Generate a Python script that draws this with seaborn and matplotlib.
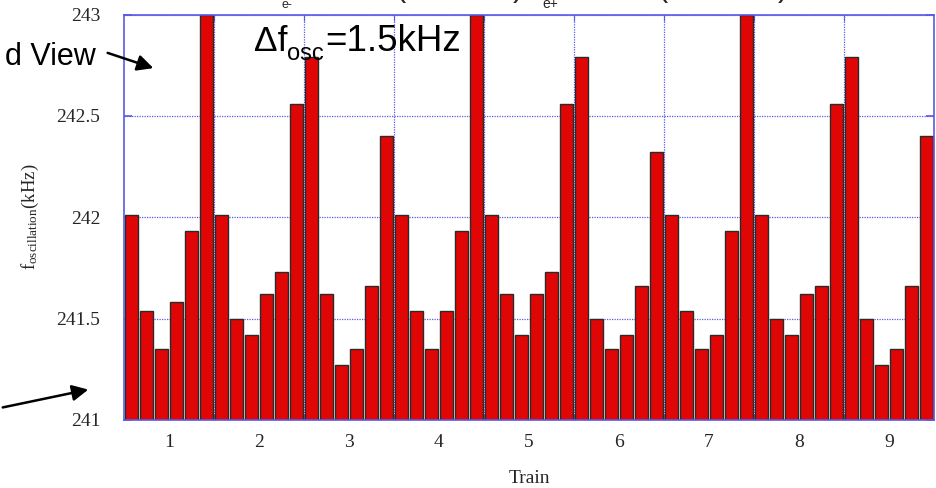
import numpy as np
import pandas as pd
import matplotlib
matplotlib.use("Agg")
import matplotlib.pyplot as plt
import seaborn as sns
from matplotlib.patches import FancyArrowPatch

# ---- data ----
trains = [1, 2, 3, 4, 5, 6, 7, 8, 9]
bunches_per_train = 6
freq_train1 = [242.01, 241.54, 241.35, 241.58, 241.93, 243.00]
freq_train2 = [242.01, 241.50, 241.42, 241.62, 241.73, 242.56]
freq_train3 = [242.79, 241.62, 241.27, 241.35, 241.66, 242.40]
freq_train4 = [242.01, 241.54, 241.35, 241.54, 241.93, 243.00]
freq_train5 = [242.01, 241.62, 241.42, 241.62, 241.73, 242.56]
freq_train6 = [242.79, 241.50, 241.35, 241.42, 241.66, 242.32]
freq_train7 = [242.01, 241.54, 241.35, 241.42, 241.93, 243.00]
freq_train8 = [242.01, 241.50, 241.42, 241.62, 241.66, 242.56]
freq_train9 = [242.79, 241.50, 241.27, 241.35, 241.66, 242.40]
y_ticks = [241, 241.5, 242, 242.5, 243]
y_tick_labels = ["241", "241.5", "242", "242.5", "243"]

freqs = (freq_train1 + freq_train2 + freq_train3 + freq_train4 + freq_train5
         + freq_train6 + freq_train7 + freq_train8 + freq_train9)
df = pd.DataFrame({"bar": np.arange(len(freqs)), "freq": freqs})

sns.set_style("white")
plt.rcParams["mathtext.fontset"] = "custom"
plt.rcParams["mathtext.rm"] = "Liberation Serif"
plt.rcParams["mathtext.it"] = "Liberation Serif:italic"
plt.rcParams["font.family"] = ["Liberation Serif", "DejaVu Serif"]

BLUE = "#5a5ae6"
RED = "#e00606"
SANS = "Liberation Sans"

fig = plt.figure(figsize=(9.36, 4.88), dpi=100)
ax = fig.add_axes([124 / 936, 1 - 420 / 488, 810 / 936, (420 - 14.5) / 488])

sns.barplot(data=df, x="bar", y="freq", color=RED, saturation=1,
            edgecolor="#2a2a2a", linewidth=1.0, width=0.83, ax=ax,
            order=list(df["bar"]))

n = len(freqs)
ax.set_xlim(-0.5, n - 0.5)
ax.set_ylim(241, 243)

# boundaries between trains -> major ticks/grid; labels at train centres
bounds = [i * bunches_per_train - 0.5 for i in range(1, len(trains))]
centres = [i * bunches_per_train + (bunches_per_train - 1) / 2 for i in range(len(trains))]
ax.set_xticks(bounds)
ax.set_xticklabels([""] * len(bounds))
ax.set_xticks(centres, minor=True)
ax.set_xticklabels([str(t) for t in trains], minor=True, fontsize=14)
ax.tick_params(axis="x", which="minor", length=0, pad=10)
ax.tick_params(axis="x", which="major", direction="in", length=4, color=BLUE,
               top=True, bottom=True)

ax.set_yticks(y_ticks)
ax.set_yticklabels(y_tick_labels, fontsize=14)
ax.tick_params(axis="y", direction="in", length=6, width=1.2, color=BLUE,
               left=True, right=True, pad=17)

ax.set_axisbelow(True)
ax.grid(True, which="major", axis="both", color=BLUE, linestyle=(0, (1, 1)),
        linewidth=0.9)

for s in ax.spines.values():
    s.set_color(BLUE)
    s.set_linewidth(1.2)

ax.set_xlabel("Train", fontsize=14, labelpad=14)
ax.set_ylabel(r"f$_{\mathrm{oscillation}}$(kHz)", fontsize=13.5, labelpad=11)

# annotation text: Δf_osc=1.5kHz
fig.text(254 / 936, 1 - 51 / 488, "Δf", fontsize=25.5, family=SANS,
         ha="left", va="baseline", color="black")
fig.text(287 / 936, 1 - 60 / 488, "osc", fontsize=17, family=SANS,
         ha="left", va="baseline", color="black")
fig.text(325 / 936, 1 - 51 / 488, "=1.5kHz", fontsize=26.5, family=SANS,
         ha="left", va="baseline", color="black")
fig.text(96 / 936, 1 - 65 / 488, "d View", fontsize=22, family=SANS,
         ha="right", va="baseline", color="black")

# cut-off title remnants above the plot
fig.text(287 / 936, 1 - 8 / 488, "e-", fontsize=9, family=SANS,
         ha="center", va="baseline")
fig.text(550 / 936, 1 - 8 / 488, "e+", fontsize=10, family=SANS,
         ha="center", va="baseline")
for xp, ch in [(400, "("), (522, "),"), (662, "("), (783, ")")]:
    fig.text(xp / 936, 1 + 4 / 488, ch, fontsize=22, family=SANS,
             ha="center", va="baseline")

# arrows
for (x0, y0), (x1, y1) in [((105, 52), (156, 69)), ((0, 408), (91, 389))]:
    arr = FancyArrowPatch((x0 / 936, 1 - y0 / 488), (x1 / 936, 1 - y1 / 488),
                          transform=fig.transFigure, arrowstyle="-|>",
                          mutation_scale=24, lw=1.8, color="black")
    fig.patches.append(arr)

fig.savefig("out.png", dpi=100)
